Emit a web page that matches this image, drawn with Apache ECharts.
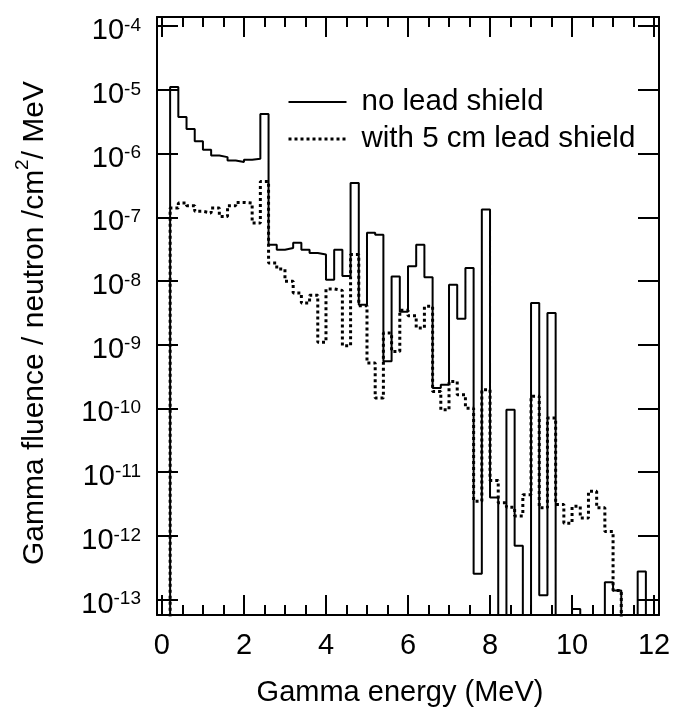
<!DOCTYPE html>
<html>
<head>
<meta charset="utf-8">
<script src="https://cdn.jsdelivr.net/npm/echarts@6/dist/echarts.min.js"></script>
<style>
html,body{margin:0;padding:0;background:#fff;}
#chart{width:681px;height:711px;}
</style>
</head>
<body>
<div id="chart"></div>
<script>
// Bin edges (MeV), 0.2 MeV wide bins
const binEdges = [0.0,0.2,0.4,0.6,0.8,1.0,1.2,1.4,1.6,1.8,2.0,2.2,2.4,2.6,2.8,3.0,3.2,3.4,3.6,3.8,
  4.0,4.2,4.4,4.6,4.8,5.0,5.2,5.4,5.6,5.8,6.0,6.2,6.4,6.6,6.8,7.0,7.2,7.4,7.6,7.8,
  8.0,8.2,8.4,8.6,8.8,9.0,9.2,9.4,9.6,9.8,10.0,10.2,10.4,10.6,10.8,11.0,11.2,11.4,11.6,11.8,12.0];

// Fluence per bin (0 = below plot range)
const noLeadShield = [0,1.11e-5,3.75e-6,2.43e-6,1.56e-6,1.15e-6,9.3e-7,8.8e-7,7.8e-7,7.4e-7,8.0e-7,8.3e-7,4.2e-6,
  3.7e-8,3.1e-8,3.3e-8,4.0e-8,3.1e-8,2.75e-8,2.6e-8,1.05e-8,3.1e-8,1.2e-8,3.45e-7,4.25e-9,5.7e-8,5.3e-8,5.5e-10,
  1.18e-8,3.3e-9,1.7e-8,3.7e-8,1.14e-8,2.1e-10,2.35e-10,8.75e-9,2.56e-9,1.6e-8,2.54e-13,1.32e-7,
  4.0e-12,0,9.5e-11,7.0e-13,0,4.5e-9,1.17e-13,3.15e-9,0,0,7.1e-14,0,0,0,1.86e-13,1.38e-13,0,0,2.75e-13,0];

const withLeadShield = [0,1.4e-7,1.67e-7,1.52e-7,1.24e-7,1.17e-7,1.4e-7,1.03e-7,1.52e-7,1.71e-7,1.67e-7,8.1e-8,3.66e-7,
  1.91e-8,1.54e-8,9.9e-9,6.5e-9,4.5e-9,6.0e-9,1.09e-9,7.5e-9,7.1e-9,9.6e-10,2.6e-8,4.1e-9,5.15e-10,1.46e-10,1.52e-9,
  7.85e-10,3.46e-9,2.85e-9,1.83e-9,4.0e-9,1.85e-10,9.5e-11,2.65e-10,1.64e-10,1.01e-10,3.5e-12,1.97e-10,
  7.4e-12,3.3e-12,2.8e-12,2.05e-12,4.4e-12,1.55e-10,2.75e-12,7.1e-11,3.1e-12,1.58e-12,2.9e-12,1.9e-12,5.0e-12,2.75e-12,1.17e-12,1.38e-13,0,0,0,0];

const seriesNames = ['no lead shield', 'with 5 cm lead shield'];
const xTickLabels = ['0','2','4','6','8','10','12'];

const FONT = 'Liberation Sans, Arial, sans-serif';
const FLOOR = 1e-30; // zero bins are drawn below the visible range

function stepData(vals) {
  const d = [];
  for (let i = 0; i < vals.length; i++) d.push([binEdges[i], vals[i] > 0 ? vals[i] : FLOOR]);
  d.push([binEdges[binEdges.length - 1], FLOOR]);
  return d;
}

const X_MIN = -0.12, X_MAX = 12.12;
const Y_MIN = Math.pow(10, -13.243), Y_MAX = Math.pow(10, -3.856);

const chart = echarts.init(document.getElementById('chart'), null, {renderer: 'canvas'});

const xCommon = {
  type: 'value', min: X_MIN, max: X_MAX, splitNumber: 6,
  axisLine: {show: true, onZero: false, lineStyle: {color: '#000', width: 2}},
  axisTick: {show: true, inside: true, length: 20, lineStyle: {color: '#000', width: 2}},
  minorTick: {show: true, splitNumber: 4, length: 10, lineStyle: {color: '#000', width: 2}},
  splitLine: {show: false}, minorSplitLine: {show: false}
};
const yCommon = {
  type: 'log', logBase: 10, min: Y_MIN, max: Y_MAX, splitNumber: 10,
  axisLine: {show: true, onZero: false, lineStyle: {color: '#000', width: 2}},
  axisTick: {show: true, inside: true, length: 21, lineStyle: {color: '#000', width: 2}},
  minorTick: {show: false},
  splitLine: {show: false}
};

chart.setOption({
  animation: false,
  backgroundColor: '#fff',
  grid: {left: 157, right: 22, top: 17, bottom: 96, containLabel: false, outerBoundsMode: 'none', show: false},
  legend: {
    orient: 'vertical', left: 287, top: 87, padding: 0, itemWidth: 58, itemHeight: 14, itemGap: 7,
    itemStyle: {opacity: 0},
    textStyle: {fontSize: 29.5, fontFamily: FONT, color: '#000', padding: [0, 0, 0, 10]},
    data: [
      {name: seriesNames[0], lineStyle: {width: 2, color: '#000', type: 'solid'}},
      {name: seriesNames[1], lineStyle: {width: 3, color: '#000', type: [3, 3]}}
    ]
  },
  xAxis: [
    Object.assign({}, xCommon, {
      position: 'bottom',
      name: 'Gamma energy (MeV)', nameLocation: 'middle', nameGap: 63, nameMoveOverlap: false,
      nameTextStyle: {fontSize: 29, fontFamily: FONT, color: '#000', padding: [0, 16, 0, 0]},
      axisLabel: {
        show: true, margin: 16, fontSize: 29, fontFamily: FONT, color: '#000',
        formatter: function (v) {
          const r = Math.round(v);
          if (Math.abs(v - r) > 1e-6) return '';
          const s = String(r);
          return xTickLabels.indexOf(s) >= 0 ? s : '';
        }
      }
    }),
    Object.assign({}, xCommon, {position: 'top', axisLabel: {show: false}})
  ],
  yAxis: [
    Object.assign({}, yCommon, {
      position: 'left',
      name: 'Gamma fluence / neutron /cm{sup|2}/ MeV', nameLocation: 'middle', nameGap: 100, nameMoveOverlap: false,
      nameTextStyle: {fontSize: 30, fontFamily: FONT, color: '#000', lineHeight: 44, padding: [0, 14, 0, 0],
        rich: {sup: {fontSize: 19, fontFamily: FONT, color: '#000', verticalAlign: 'top', lineHeight: 18}}},
      axisLabel: {
        show: true, margin: 16, color: '#000', fontFamily: FONT,
        formatter: function (v) {
          if (!(v > 0)) return '';
          const e = Math.log10(v);
          const r = Math.round(e);
          if (Math.abs(e - r) > 1e-6) return '';
          return '{b|10}{s|' + r + '}';
        },
        rich: {
          b: {fontSize: 29, fontFamily: FONT, color: '#000', lineHeight: 40, padding: [10, 0, 0, 0]},
          s: {fontSize: 19, fontFamily: FONT, color: '#000', lineHeight: 18, verticalAlign: 'top', padding: [10, 0, 0, 0]}
        }
      }
    }),
    Object.assign({}, yCommon, {position: 'right', axisLabel: {show: false}})
  ],
  series: [
    {
      name: seriesNames[0], type: 'line', step: 'end', xAxisIndex: 0, yAxisIndex: 0,
      symbol: 'none', showSymbol: false, clip: true,
      lineStyle: {color: '#000', width: 2, type: 'solid'},
      itemStyle: {color: '#000'},
      data: stepData(noLeadShield)
    },
    {
      name: seriesNames[1], type: 'line', step: 'end', xAxisIndex: 0, yAxisIndex: 0,
      symbol: 'none', showSymbol: false, clip: true,
      lineStyle: {color: '#000', width: 3, type: [3, 3]},
      itemStyle: {color: '#000'},
      data: stepData(withLeadShield)
    }
  ]
});
</script>
</body>
</html>
